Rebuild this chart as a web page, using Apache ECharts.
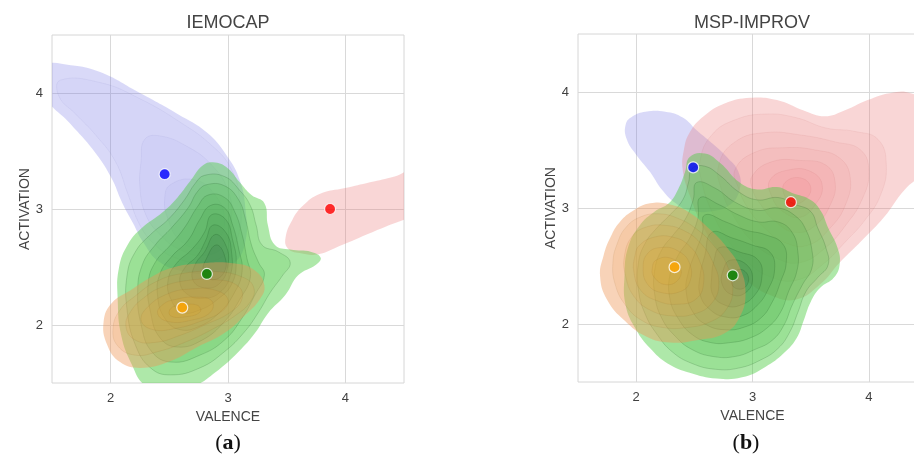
<!DOCTYPE html>
<html>
<head>
<meta charset="utf-8">
<script src="https://cdn.jsdelivr.net/npm/echarts@6/dist/echarts.min.js"></script>
<style>
  html, body { margin: 0; padding: 0; background: #ffffff; overflow: hidden; }
  #chart { width: 914px; height: 468px; }
</style>
</head>
<body>
<div id="chart"></div>
<script>
// ---- Panels, axes and labels ----
const panelTitles = ['IEMOCAP', 'MSP-IMPROV'];
const panelCaptions = ['a', 'b'];
const axisTicks = [2, 3, 4];
const axisMin = 1.5;
const axisMax = 4.5;
const xAxisName = 'VALENCE';
const yAxisName = 'ACTIVATION';
const classColors = ['blue', 'red', 'green', 'orange'];

// ---- Class means [valence, activation] ----
const iemocapMeans = [[2.46, 3.30], [3.87, 3.00], [2.82, 2.44], [2.61, 2.15]];
const mspMeans = [[2.49, 3.35], [3.33, 3.05], [2.83, 2.42], [2.33, 2.49]];

// ---- Density contour levels (outer to inner), [valence, activation] vertices ----
const iemocapBlueLevels = [
  [[1.44,4.23],[1.66,4.24],[1.91,4.18],[2.23,4.01],[2.57,3.82],[2.82,3.66],[2.99,3.46],[3.10,3.25],[3.15,2.99],[3.15,2.73],[3.06,2.54],[2.86,2.45],[2.63,2.46],[2.42,2.54],[2.28,2.71],[2.19,2.88],[2.10,3.05],[2.00,3.28],[1.85,3.51],[1.66,3.73],[1.44,3.98]],
  [[1.57,4.11],[1.91,4.09],[2.25,3.95],[2.59,3.75],[2.87,3.54],[3.03,3.34],[3.10,3.08],[3.09,2.78],[2.97,2.60],[2.76,2.54],[2.55,2.58],[2.38,2.69],[2.25,2.86],[2.15,3.12],[2.04,3.41],[1.87,3.64],[1.70,3.82],[1.56,3.97]],
  [[2.29,3.60],[2.42,3.63],[2.65,3.54],[2.86,3.38],[3.00,3.16],[3.03,2.91],[2.97,2.69],[2.80,2.60],[2.59,2.65],[2.42,2.78],[2.30,2.95],[2.25,3.18],[2.26,3.42]],
  [[2.51,3.21],[2.72,3.25],[2.89,3.12],[2.97,2.91],[2.91,2.73],[2.76,2.66],[2.59,2.73],[2.49,2.91],[2.46,3.08]]
];
const iemocapRedLevels = [
  [[3.49,2.75],[3.55,2.91],[3.64,3.03],[3.78,3.13],[4.00,3.18],[4.21,3.23],[4.42,3.28],[4.63,3.35],[4.63,2.94],[4.51,2.91],[4.23,2.80],[3.95,2.68],[3.77,2.61],[3.61,2.62],[3.51,2.66]]
];
const iemocapGreenLevels = [
  [[2.79,3.38],[2.89,3.40],[3.00,3.35],[3.10,3.23],[3.20,3.12],[3.31,3.05],[3.34,2.86],[3.40,2.69],[3.53,2.65],[3.71,2.63],[3.79,2.58],[3.75,2.52],[3.60,2.43],[3.49,2.26],[3.34,2.10],[3.23,1.93],[3.09,1.77],[2.89,1.59],[2.72,1.48],[2.46,1.42],[2.29,1.48],[2.18,1.66],[2.09,1.91],[2.06,2.22],[2.07,2.49],[2.15,2.70],[2.27,2.84],[2.44,2.97],[2.57,3.10],[2.67,3.23]],
  [[2.80,3.29],[2.97,3.28],[3.10,3.16],[3.19,3.03],[3.24,2.86],[3.29,2.69],[3.43,2.63],[3.53,2.54],[3.46,2.42],[3.36,2.28],[3.26,2.11],[3.14,1.94],[2.97,1.77],[2.76,1.63],[2.51,1.57],[2.34,1.63],[2.21,1.83],[2.14,2.13],[2.14,2.43],[2.21,2.63],[2.34,2.78],[2.49,2.91],[2.63,3.08],[2.72,3.22]],
  [[2.82,3.21],[2.97,3.20],[3.09,3.08],[3.15,2.91],[3.20,2.69],[3.26,2.54],[3.31,2.43],[3.23,2.26],[3.12,2.06],[2.97,1.87],[2.76,1.74],[2.52,1.68],[2.35,1.77],[2.26,2.00],[2.23,2.28],[2.27,2.52],[2.38,2.69],[2.52,2.84],[2.66,3.01],[2.74,3.15]],
  [[2.83,3.12],[2.97,3.10],[3.06,2.97],[3.12,2.78],[3.16,2.58],[3.19,2.41],[3.10,2.22],[2.97,2.03],[2.78,1.87],[2.57,1.81],[2.42,1.89],[2.34,2.11],[2.32,2.36],[2.38,2.54],[2.51,2.69],[2.63,2.84],[2.74,3.02]],
  [[2.85,3.03],[2.97,3.01],[3.04,2.86],[3.09,2.66],[3.12,2.46],[3.05,2.27],[2.93,2.11],[2.76,1.99],[2.59,1.96],[2.46,2.06],[2.40,2.25],[2.42,2.44],[2.52,2.59],[2.66,2.73],[2.76,2.91]],
  [[2.86,2.95],[2.98,2.91],[3.04,2.73],[3.07,2.54],[3.03,2.35],[2.91,2.22],[2.76,2.13],[2.61,2.11],[2.51,2.23],[2.49,2.39],[2.56,2.53],[2.69,2.65],[2.80,2.80]],
  [[2.87,2.86],[2.98,2.80],[3.03,2.63],[3.02,2.43],[2.93,2.28],[2.79,2.23],[2.66,2.26],[2.59,2.37],[2.63,2.49],[2.74,2.60],[2.81,2.73]],
  [[2.89,2.78],[2.98,2.69],[3.00,2.52],[2.93,2.36],[2.80,2.32],[2.70,2.39],[2.72,2.52],[2.80,2.63]],
  [[2.90,2.69],[2.97,2.60],[2.97,2.46],[2.87,2.39],[2.79,2.46],[2.82,2.58]]
];
const iemocapOrangeLevels = [
  [[2.34,2.41],[2.51,2.49],[2.76,2.53],[3.06,2.53],[3.23,2.47],[3.31,2.34],[3.27,2.22],[3.14,2.08],[2.97,1.93],[2.74,1.81],[2.49,1.68],[2.25,1.63],[2.08,1.68],[1.97,1.83],[1.94,2.03],[2.01,2.19],[2.17,2.30]],
  [[2.38,2.37],[2.59,2.44],[2.89,2.46],[3.13,2.41],[3.22,2.32],[3.19,2.20],[3.06,2.08],[2.86,1.96],[2.63,1.85],[2.40,1.77],[2.21,1.74],[2.06,1.82],[2.02,1.97],[2.08,2.13],[2.21,2.25]],
  [[2.42,2.32],[2.63,2.38],[2.89,2.39],[3.08,2.34],[3.12,2.23],[3.02,2.11],[2.80,2.00],[2.59,1.91],[2.38,1.85],[2.21,1.87],[2.13,1.99],[2.18,2.13],[2.29,2.24]],
  [[2.49,2.27],[2.68,2.31],[2.89,2.30],[3.00,2.22],[2.95,2.12],[2.76,2.03],[2.55,1.97],[2.36,1.96],[2.26,2.04],[2.32,2.16]],
  [[2.55,2.22],[2.72,2.24],[2.86,2.21],[2.85,2.11],[2.68,2.04],[2.49,2.03],[2.40,2.10],[2.45,2.18]],
  [[2.59,2.17],[2.74,2.17],[2.76,2.11],[2.63,2.07],[2.51,2.08],[2.51,2.14]]
];

const mspBlueLevels = [
  [[1.91,3.72],[1.97,3.79],[2.08,3.83],[2.25,3.83],[2.40,3.78],[2.52,3.67],[2.65,3.56],[2.78,3.44],[2.88,3.31],[2.89,3.16],[2.81,3.03],[2.64,2.97],[2.46,2.98],[2.34,3.04],[2.22,3.16],[2.12,3.31],[2.00,3.46],[1.92,3.59]]
];
const mspRedLevels = [
  [[2.41,3.50],[2.46,3.65],[2.58,3.79],[2.76,3.90],[2.98,3.95],[3.21,3.93],[3.44,3.84],[3.62,3.79],[3.79,3.84],[3.99,3.93],[4.18,3.99],[4.36,3.99],[4.57,3.86],[4.57,3.41],[4.31,3.16],[4.13,2.92],[3.94,2.72],[3.75,2.53],[3.58,2.34],[3.37,2.21],[3.15,2.25],[2.94,2.38],[2.77,2.55],[2.59,2.81],[2.46,3.11],[2.40,3.33]],
  [[2.55,3.41],[2.65,3.63],[2.85,3.76],[3.11,3.81],[3.37,3.78],[3.63,3.69],[3.88,3.66],[4.08,3.59],[4.15,3.37],[4.10,3.11],[3.97,2.90],[3.80,2.71],[3.60,2.51],[3.39,2.38],[3.17,2.40],[2.96,2.53],[2.79,2.72],[2.65,2.97],[2.57,3.20]],
  [[2.71,3.37],[2.85,3.57],[3.11,3.65],[3.41,3.63],[3.71,3.57],[3.93,3.50],[4.00,3.31],[3.94,3.07],[3.80,2.85],[3.63,2.66],[3.41,2.53],[3.20,2.57],[3.00,2.71],[2.85,2.91],[2.74,3.14]],
  [[2.85,3.33],[3.02,3.48],[3.28,3.52],[3.54,3.50],[3.75,3.43],[3.84,3.26],[3.80,3.03],[3.67,2.83],[3.48,2.68],[3.28,2.70],[3.10,2.83],[2.96,3.00],[2.88,3.17]],
  [[3.00,3.28],[3.17,3.40],[3.41,3.41],[3.63,3.37],[3.71,3.22],[3.67,3.03],[3.54,2.85],[3.37,2.79],[3.20,2.88],[3.07,3.03],[3.00,3.16]],
  [[3.15,3.24],[3.32,3.33],[3.51,3.31],[3.60,3.19],[3.54,3.03],[3.41,2.92],[3.26,2.97],[3.17,3.09]],
  [[3.28,3.22],[3.41,3.26],[3.50,3.18],[3.45,3.07],[3.34,3.04],[3.27,3.12]]
];
const mspGreenLevels = [
  [[2.46,3.44],[2.59,3.47],[2.72,3.39],[2.89,3.22],[3.04,3.16],[3.21,3.18],[3.34,3.13],[3.50,3.07],[3.59,2.97],[3.65,2.83],[3.73,2.66],[3.75,2.52],[3.70,2.40],[3.58,2.31],[3.50,2.19],[3.44,2.03],[3.38,1.88],[3.27,1.75],[3.11,1.63],[2.91,1.54],[2.69,1.53],[2.46,1.58],[2.27,1.66],[2.12,1.79],[2.00,1.95],[1.91,2.16],[1.90,2.42],[1.93,2.66],[2.03,2.85],[2.16,2.97],[2.28,3.04],[2.36,3.16],[2.42,3.31]],
  [[2.48,3.34],[2.59,3.36],[2.72,3.28],[2.88,3.14],[3.04,3.07],[3.22,3.09],[3.37,3.03],[3.50,2.97],[3.56,2.83],[3.63,2.66],[3.65,2.51],[3.56,2.40],[3.46,2.28],[3.39,2.10],[3.32,1.93],[3.22,1.79],[3.07,1.69],[2.88,1.62],[2.68,1.61],[2.48,1.66],[2.31,1.76],[2.18,1.91],[2.08,2.08],[2.02,2.29],[2.02,2.53],[2.08,2.70],[2.18,2.83],[2.29,2.94],[2.40,3.07],[2.45,3.22]],
  [[2.52,3.22],[2.68,3.17],[2.85,3.05],[3.04,2.98],[3.22,3.00],[3.37,2.93],[3.46,2.81],[3.51,2.64],[3.51,2.48],[3.43,2.34],[3.34,2.16],[3.27,1.99],[3.17,1.86],[3.02,1.78],[2.85,1.72],[2.66,1.72],[2.48,1.78],[2.34,1.89],[2.22,2.05],[2.16,2.25],[2.16,2.47],[2.22,2.64],[2.32,2.77],[2.42,2.90],[2.49,3.07]],
  [[2.55,3.09],[2.71,3.03],[2.88,2.94],[3.05,2.88],[3.22,2.88],[3.34,2.79],[3.39,2.62],[3.38,2.45],[3.31,2.28],[3.24,2.10],[3.13,1.97],[2.98,1.88],[2.81,1.84],[2.64,1.84],[2.48,1.91],[2.36,2.05],[2.29,2.22],[2.29,2.42],[2.36,2.59],[2.46,2.74],[2.53,2.91]],
  [[2.59,2.94],[2.77,2.88],[2.94,2.81],[3.11,2.77],[3.26,2.69],[3.29,2.53],[3.24,2.36],[3.17,2.19],[3.07,2.05],[2.92,1.97],[2.77,1.95],[2.61,1.99],[2.49,2.10],[2.43,2.28],[2.45,2.45],[2.51,2.62],[2.57,2.79]],
  [[2.65,2.79],[2.83,2.74],[3.00,2.68],[3.15,2.62],[3.19,2.47],[3.13,2.29],[3.04,2.16],[2.91,2.07],[2.77,2.06],[2.64,2.12],[2.55,2.25],[2.55,2.42],[2.59,2.59]],
  [[2.72,2.66],[2.89,2.62],[3.05,2.55],[3.08,2.40],[3.02,2.25],[2.89,2.16],[2.77,2.16],[2.66,2.25],[2.65,2.42],[2.67,2.55]],
  [[2.81,2.55],[2.95,2.51],[3.00,2.38],[2.94,2.27],[2.83,2.25],[2.74,2.34],[2.75,2.47]],
  [[2.88,2.47],[2.96,2.42],[2.94,2.32],[2.85,2.31],[2.82,2.38]]
];
const mspOrangeLevels = [
  [[1.86,2.88],[1.98,2.98],[2.12,3.04],[2.29,3.03],[2.46,2.96],[2.64,2.81],[2.78,2.66],[2.89,2.49],[2.94,2.27],[2.89,2.06],[2.76,1.92],[2.52,1.86],[2.29,1.84],[2.09,1.89],[1.90,2.03],[1.75,2.21],[1.69,2.41],[1.72,2.59],[1.78,2.75]],
  [[1.91,2.83],[2.03,2.92],[2.19,2.95],[2.36,2.91],[2.53,2.81],[2.68,2.66],[2.78,2.51],[2.83,2.29],[2.77,2.12],[2.64,2.02],[2.44,1.97],[2.23,1.97],[2.05,2.03],[1.91,2.16],[1.82,2.34],[1.80,2.53],[1.84,2.70]],
  [[1.97,2.76],[2.10,2.84],[2.25,2.85],[2.40,2.81],[2.55,2.70],[2.66,2.53],[2.71,2.34],[2.65,2.18],[2.51,2.09],[2.31,2.07],[2.12,2.12],[1.98,2.24],[1.91,2.41],[1.90,2.59]],
  [[2.03,2.68],[2.16,2.75],[2.31,2.75],[2.45,2.68],[2.55,2.53],[2.58,2.36],[2.52,2.22],[2.36,2.17],[2.18,2.20],[2.04,2.29],[1.98,2.45],[1.99,2.59]],
  [[2.10,2.61],[2.22,2.66],[2.36,2.63],[2.46,2.52],[2.46,2.36],[2.38,2.28],[2.22,2.27],[2.10,2.34],[2.06,2.48]],
  [[2.17,2.55],[2.29,2.57],[2.38,2.49],[2.36,2.38],[2.25,2.34],[2.15,2.41],[2.14,2.49]]
];

// ---- Fill styles per class: outer colour, inner colour, outer and inner opacity ----
const fillStyles = {
  blue:   { outer: [108, 108, 228], inner: [95, 95, 205],  a0: 0.26, a1: 0.035, line: 'rgba(60,60,160,0.08)' },
  red:    { outer: [235, 120, 120], inner: [240, 105, 112], a0: 0.30, a1: 0.085, line: 'rgba(170,60,60,0.09)' },
  green:  { outer: [75, 205, 65],   inner: [60, 115, 80],   a0: 0.45, a1: 0.19, line: 'rgba(10,70,20,0.22)' },
  orange: { outer: [238, 150, 85],  inner: [235, 170, 30],  a0: 0.42, a1: 0.15, line: 'rgba(140,90,20,0.12)' }
};

function levelFill(style, i, n) {
  const t = n > 1 ? i / (n - 1) : 0;
  const c = style.outer.map((v, k) => Math.round(v + (style.inner[k] - v) * t));
  const a = i === 0 ? style.a0 : style.a1;
  return 'rgba(' + c.join(',') + ',' + a + ')';
}

function contourSeries(levels, colorName, gridIndex) {
  const style = fillStyles[colorName];
  return {
    type: 'custom',
    xAxisIndex: gridIndex,
    yAxisIndex: gridIndex,
    silent: true,
    clip: true,
    data: levels.map((ring, i) => [ring[0][0], ring[0][1], i]),
    encode: { x: 0, y: 1 },
    renderItem: function (params, api) {
      const idx = api.value(2);
      const ring = levels[idx];
      const pts = ring.map(p => api.coord(p));
      const cs = params.coordSys;
      return {
        type: 'polygon',
        shape: { points: pts, smooth: 0.45 },
        style: {
          fill: levelFill(style, idx, levels.length),
          stroke: idx === 0 ? 'rgba(0,0,0,0)' : style.line,
          lineWidth: 0.8
        },
        clipPath: { type: 'rect', shape: { x: cs.x, y: cs.y, width: cs.width, height: cs.height } }
      };
    }
  };
}

function meanSeries(means, gridIndex) {
  return {
    type: 'scatter',
    xAxisIndex: gridIndex,
    yAxisIndex: gridIndex,
    z: 10,
    symbolSize: 11,
    silent: true,
    data: means.map((m, i) => ({
      value: m,
      itemStyle: { color: classColors[i], borderColor: '#ffffff', borderWidth: 1.2 }
    }))
  };
}

// The second panel runs past the right edge of the canvas, as in the printed figure.
const grids = [
  { left: 52, top: 35, width: 352, height: 348 },
  { left: 578, top: 34, width: 349, height: 348 }
];

const labelFont = 'Liberation Sans, Arial, sans-serif';

function makeXAxis(i) {
  return {
    gridIndex: i, type: 'value', min: axisMin, max: axisMax,
    name: xAxisName, nameLocation: 'middle', nameGap: 22,
    nameTextStyle: { fontSize: 14, color: '#444444', fontFamily: labelFont },
    axisLine: { show: false },
    axisTick: { show: false, customValues: axisTicks },
    axisLabel: { customValues: axisTicks, fontSize: 13, color: '#404040', margin: 9, fontFamily: labelFont },
    splitLine: { show: true, lineStyle: { color: '#d9d9d9', width: 1 } }
  };
}
function makeYAxis(i) {
  return {
    gridIndex: i, type: 'value', min: axisMin, max: axisMax,
    name: yAxisName, nameLocation: 'middle', nameGap: 20,
    nameTextStyle: { fontSize: 14, color: '#444444', fontFamily: labelFont },
    axisLine: { show: false },
    axisTick: { show: false, customValues: axisTicks },
    axisLabel: { customValues: axisTicks, fontSize: 13, color: '#404040', margin: 9, fontFamily: labelFont },
    splitLine: { show: true, lineStyle: { color: '#d9d9d9', width: 1 } }
  };
}

const panelCenters = [228, 752];
const captionCenters = [228, 746];

const graphics = [];
panelTitles.forEach((t, i) => {
  graphics.push({
    type: 'text', x: panelCenters[i], y: 23, silent: true,
    style: { text: t, align: 'center', verticalAlign: 'middle', fill: '#444444', font: '18px ' + labelFont }
  });
});
panelCaptions.forEach((c, i) => {
  graphics.push({
    type: 'text', x: captionCenters[i], y: 443, silent: true,
    style: {
      text: '{p|(}{b|' + c + '}{p|)}', align: 'center', verticalAlign: 'middle',
      rich: {
        p: { fontFamily: 'Liberation Serif, DejaVu Serif, serif', fontSize: 22, fill: '#111111' },
        b: { fontFamily: 'Liberation Serif, DejaVu Serif, serif', fontSize: 22, fontWeight: 'bold', fill: '#111111' }
      }
    }
  });
});

const chart = echarts.init(document.getElementById('chart'), null, { renderer: 'canvas' });
chart.setOption({
  animation: false,
  backgroundColor: '#ffffff',
  grid: grids.map(g => Object.assign({
    show: true, borderColor: '#d6d6d6', borderWidth: 1,
    containLabel: false, outerBoundsMode: 'none'
  }, g)),
  xAxis: [makeXAxis(0), makeXAxis(1)],
  yAxis: [makeYAxis(0), makeYAxis(1)],
  graphic: graphics,
  series: [
    contourSeries(iemocapBlueLevels, 'blue', 0),
    contourSeries(iemocapRedLevels, 'red', 0),
    contourSeries(iemocapGreenLevels, 'green', 0),
    contourSeries(iemocapOrangeLevels, 'orange', 0),
    meanSeries(iemocapMeans, 0),
    contourSeries(mspBlueLevels, 'blue', 1),
    contourSeries(mspRedLevels, 'red', 1),
    contourSeries(mspGreenLevels, 'green', 1),
    contourSeries(mspOrangeLevels, 'orange', 1),
    meanSeries(mspMeans, 1)
  ]
});
</script>
</body>
</html>
